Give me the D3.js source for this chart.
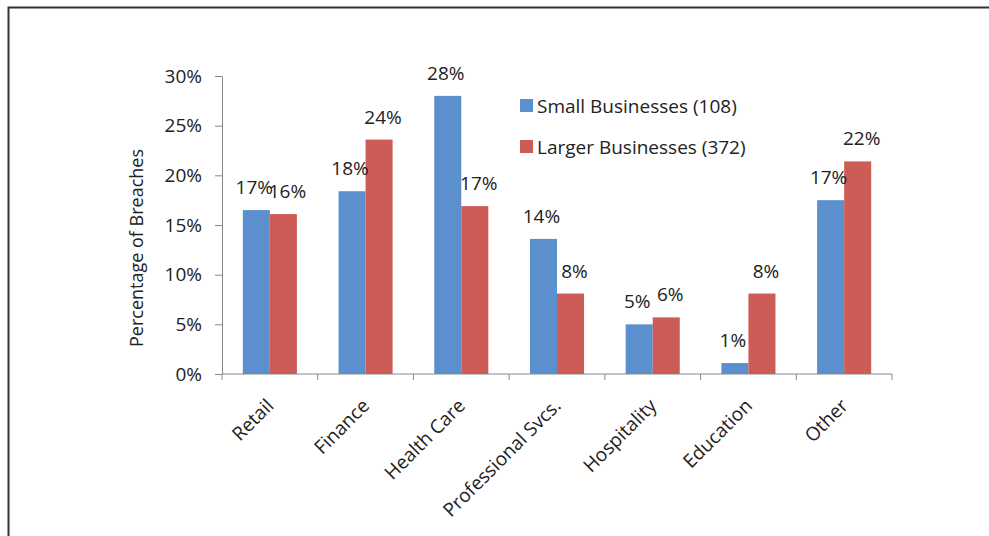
<!DOCTYPE html>
<html>
<head>
<meta charset="utf-8">
<script src="https://cdn.jsdelivr.net/npm/d3@7"></script>
<style>
  body { margin: 0; background: #fff; }
  svg text { font-family: "Open Sans", "Noto Sans", sans-serif; fill: #222; }
</style>
</head>
<body>
<div id="chart"></div>
<script>
const categories = ["Retail", "Finance", "Health Care", "Professional Svcs.", "Hospitality", "Education", "Other"];
const smallValues = [16.5, 18.4, 28.0, 13.6, 5.0, 1.1, 17.5];
const largerValues = [16.1, 23.6, 16.9, 8.1, 5.7, 8.1, 21.4];
const smallLabels = ["17%", "18%", "28%", "14%", "5%", "1%", "17%"];
const largerLabels = ["16%", "24%", "17%", "8%", "6%", "8%", "22%"];
const seriesNames = ["Small Businesses (108)", "Larger Businesses (372)"];
const yTicks = [0, 5, 10, 15, 20, 25, 30];

const colors = ["#5b8fcd", "#cd5c57"];

const W = 989, H = 536;
const margin = { top: 76, left: 222, right: 97, bottom: 162 };
const width = W - margin.left - margin.right;
const height = H - margin.top - margin.bottom;
const fs = 19;

const svg = d3.select("#chart").append("svg")
  .attr("width", W).attr("height", H);

// outer frame (only left and top edges are visible)
svg.append("path")
  .attr("d", `M8.5,${H} V7.5 H${W}`)
  .attr("fill", "none")
  .attr("stroke", "#333")
  .attr("stroke-width", 2);

const g = svg.append("g").attr("transform", `translate(${margin.left},${margin.top})`);

const x = d3.scaleBand().domain(categories).range([0, width]).paddingInner(0).paddingOuter(0);
const x1 = d3.scaleBand().domain([0, 1]).range([0, x.bandwidth()]).paddingInner(0).paddingOuter(0.77);
const y = d3.scaleLinear().domain([0, 30]).range([height, 0]);

// y axis
const yAxis = g.append("g")
  .call(d3.axisLeft(y).tickValues(yTicks).tickFormat(d => d + "%").tickSize(7).tickSizeOuter(0));
yAxis.select(".domain").attr("stroke", "#888");
yAxis.selectAll(".tick line").attr("stroke", "#888");
yAxis.selectAll(".tick text").attr("x", -20).attr("font-size", fs).attr("fill", "#222");

// x axis with ticks at band boundaries
const xAxisG = g.append("g").attr("transform", `translate(0,${height})`);
xAxisG.append("line").attr("x1", 0).attr("x2", width).attr("stroke", "#888");
const bounds = categories.map(c => x(c)).concat([width]);
xAxisG.selectAll(".bt").data(bounds).join("line")
  .attr("class", "bt")
  .attr("x1", d => d).attr("x2", d => d)
  .attr("y1", 0).attr("y2", 6)
  .attr("stroke", "#888");
xAxisG.selectAll(".xl").data(categories).join("text")
  .attr("class", "xl")
  .attr("text-anchor", "end")
  .attr("font-size", fs)
  .attr("transform", d => `translate(${x(d) + x.bandwidth() / 2 + 5},${33}) rotate(-45)`)
  .text(d => d);

// bars
const series = [smallValues, largerValues];
const labels = [smallLabels, largerLabels];
series.forEach((vals, si) => {
  g.selectAll(".bar" + si).data(categories).join("rect")
    .attr("class", "bar" + si)
    .attr("x", d => x(d) + x1(si))
    .attr("width", x1.bandwidth())
    .attr("y", (d, i) => y(vals[i]))
    .attr("height", (d, i) => height - y(vals[i]))
    .attr("fill", colors[si]);
});
series.forEach((vals, si) => {
  g.selectAll(".lab" + si).data(categories).join("text")
    .attr("class", "lab" + si)
    .attr("text-anchor", "middle")
    .attr("font-size", fs)
    .attr("x", d => x(d) + x1(si) + x1.bandwidth() / 2 + (si === 1 ? 4 : -2))
    .attr("y", (d, i) => y(vals[i]) - 16)
    .text((d, i) => labels[si][i]);
});

// y axis title
svg.append("text")
  .attr("text-anchor", "middle")
  .attr("font-size", 18)
  .attr("transform", `translate(143,248) rotate(-90)`)
  .text("Percentage of Breaches");

// legend
const legend = svg.append("g").attr("transform", "translate(520,99)");
seriesNames.forEach((name, i) => {
  const row = legend.append("g").attr("transform", `translate(0,${i * 41})`);
  row.append("rect").attr("width", 13).attr("height", 13).attr("fill", colors[i]);
  row.append("text").attr("x", 17).attr("y", 14).attr("font-size", fs).text(name);
});
</script>
</body>
</html>
